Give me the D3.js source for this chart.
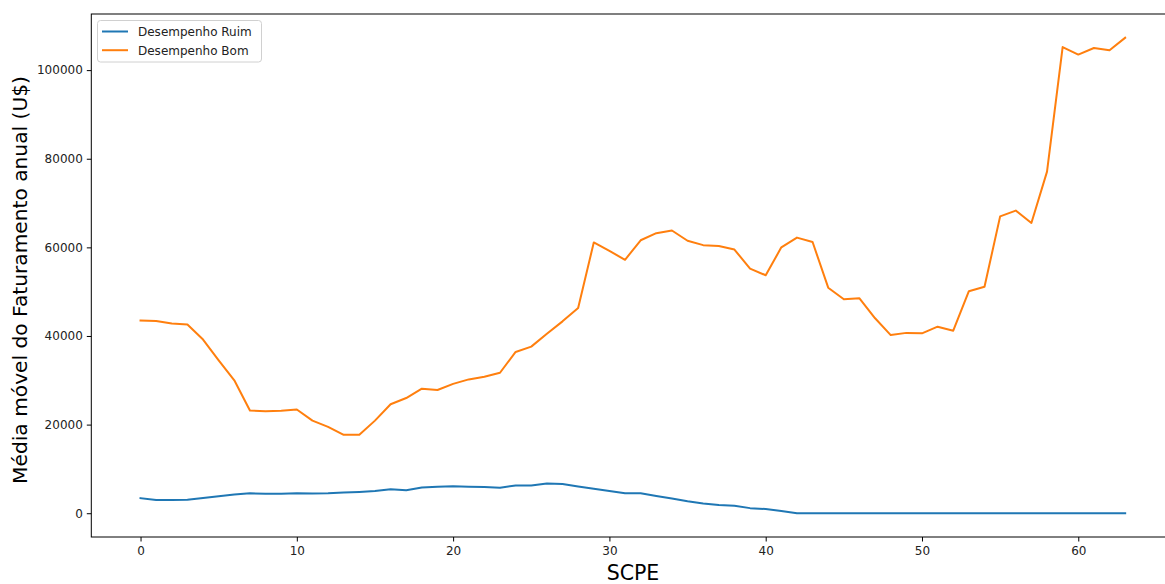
<!DOCTYPE html>
<html>
<head>
<meta charset="utf-8">
<script src="https://cdn.jsdelivr.net/npm/d3@7"></script>
<style>
  html, body { margin: 0; padding: 0; background: #fff; overflow: hidden; }
  svg { display: block; font-family: "DejaVu Sans", sans-serif; }
</style>
</head>
<body>
<svg id="chart" width="1165" height="584"></svg>
<script>
// Moving average of annual revenue by SCPE index, split by performance group
const scpe = d3.range(0, 64);

const desempenhoRuim = [
  3400, 3000, 3000, 3050, 3450, 3850, 4200, 4500, 4400, 4400,
  4500, 4450, 4500, 4650, 4800, 5000, 5400, 5200, 5800, 6000,
  6100, 6000, 5900, 5750, 6250, 6250, 6700, 6600, 6050, 5550,
  5000, 4500, 4500, 3900, 3300, 2700, 2200, 1850, 1700, 1150,
  950, 500, 0, 0, 0, 0, 0, 0, 0, 0,
  0, 0, 0, 0, 0, 0, 0, 0, 0, 0,
  0, 0, 0, 0
];

const desempenhoBom = [
  43500, 43400, 42800, 42600, 39200, 34500, 30000, 23200, 23000, 23100,
  23400, 20900, 19500, 17700, 17700, 20900, 24600, 26000, 28100, 27800,
  29200, 30200, 30800, 31700, 36400, 37600, 40500, 43300, 46300, 61100,
  59200, 57200, 61600, 63200, 63800, 61500, 60500, 60300, 59500, 55200,
  53700, 60000, 62200, 61200, 50900, 48300, 48500, 44000, 40200, 40700,
  40600, 42100, 41200, 50100, 51100, 67000, 68300, 65500, 77100, 105200,
  103500, 105000, 104500, 107300
];

const seriesNames = ["Desempenho Ruim", "Desempenho Bom"];
const seriesColors = ["#1f77b4", "#ff7f0e"];
const xTicks = [0, 10, 20, 30, 40, 50, 60];
const yTicks = [0, 20000, 40000, 60000, 80000, 100000];
const xLabel = "SCPE";
const yLabel = "Média móvel do Faturamento anual (U$)";

const svg = d3.select("#chart");

// Plot area (right edge extends slightly past the canvas)
const plot = { left: 91.3, right: 1174.4, top: 14, bottom: 537 };

// Matplotlib-like 5% margins around the data range
const xMin = d3.min(scpe), xMax = d3.max(scpe);
const xPad = (xMax - xMin) * 0.05;
const allY = desempenhoRuim.concat(desempenhoBom);
const yMin = d3.min(allY), yMax = d3.max(allY);
const yPad = (yMax - yMin) * 0.05;

const x = d3.scaleLinear().domain([xMin - xPad, xMax + xPad]).range([plot.left, plot.right]);
const y = d3.scaleLinear().domain([yMin - yPad, yMax + yPad]).range([plot.bottom, plot.top]);

// Lines
const line = d3.line().x((d, i) => x(scpe[i])).y(d => y(d));
[desempenhoRuim, desempenhoBom].forEach((vals, k) => {
  svg.append("path")
    .datum(vals)
    .attr("fill", "none")
    .attr("stroke", seriesColors[k])
    .attr("stroke-width", 2)
    .attr("stroke-linejoin", "round")
    .attr("stroke-linecap", "square")
    .attr("d", line);
});

// Axes
const xAxis = d3.axisBottom(x).tickValues(xTicks).tickSize(4.5).tickPadding(5).tickFormat(d3.format("d"));
const yAxis = d3.axisLeft(y).tickValues(yTicks).tickSize(4.5).tickPadding(4).tickFormat(d3.format("d"));

const gx = svg.append("g").attr("transform", `translate(0,${plot.bottom})`).call(xAxis);
const gy = svg.append("g").attr("transform", `translate(${plot.left},0)`).call(yAxis);
[gx, gy].forEach(g => {
  g.select(".domain").remove();
  g.selectAll(".tick line").attr("stroke", "#000").attr("stroke-width", 1);
  g.selectAll(".tick text").attr("fill", "#222").style("font-size", "12px").style("font-family", "DejaVu Sans, sans-serif");
});

// Frame (spines)
svg.append("rect")
  .attr("x", plot.left).attr("y", plot.top)
  .attr("width", plot.right - plot.left).attr("height", plot.bottom - plot.top)
  .attr("fill", "none").attr("stroke", "#000").attr("stroke-width", 1);

// Axis titles
svg.append("text")
  .attr("x", 633).attr("y", 579.5)
  .attr("text-anchor", "middle")
  .style("font-size", "20.5px").attr("fill", "#000")
  .text(xLabel);

svg.append("text")
  .attr("transform", "translate(27,280) rotate(-90)")
  .attr("text-anchor", "middle")
  .style("font-size", "20.2px").attr("fill", "#000")
  .text(yLabel);

// Legend
const legend = svg.append("g").attr("transform", "translate(97.5,20.5)");
legend.append("rect")
  .attr("width", 164).attr("height", 41.5).attr("rx", 3)
  .attr("fill", "#fff").attr("fill-opacity", 0.8)
  .attr("stroke", "#d0d0d0").attr("stroke-width", 1);
seriesNames.forEach((name, k) => {
  const row = legend.append("g").attr("transform", `translate(0,${11 + k * 18.7})`);
  row.append("line").attr("x1", 4.5).attr("x2", 30.5).attr("y1", 0).attr("y2", 0)
    .attr("stroke", seriesColors[k]).attr("stroke-width", 2);
  row.append("text").attr("x", 40.5).attr("y", 0).attr("dy", "0.36em")
    .style("font-size", "12px").attr("fill", "#222").text(name);
});
</script>
</body>
</html>
